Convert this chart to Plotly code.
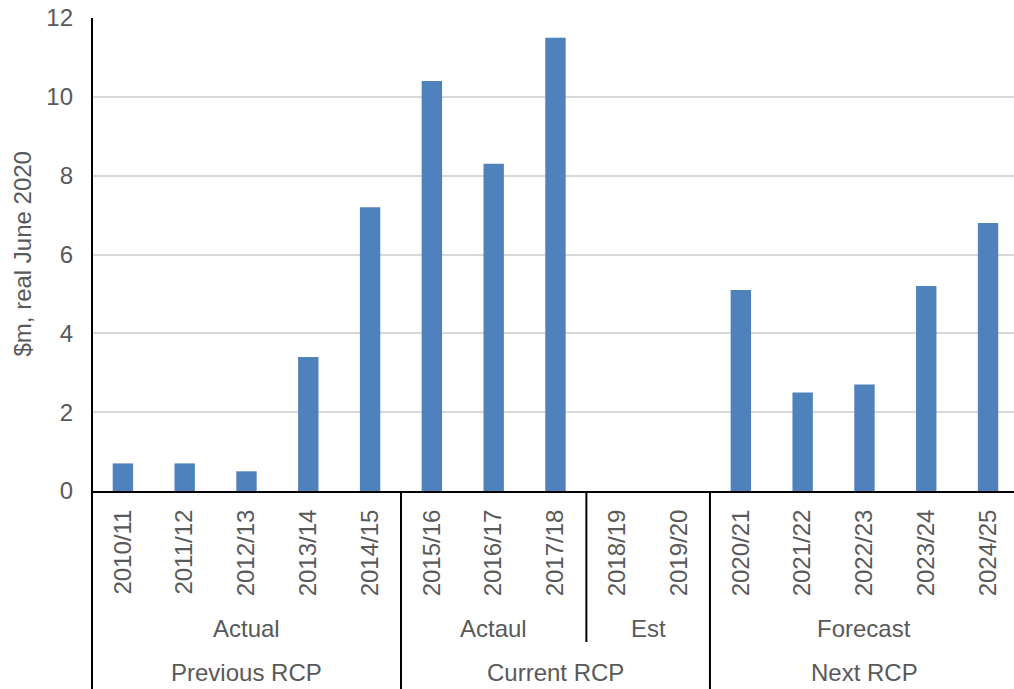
import plotly.graph_objects as go

# Financial years and spend ($m, real June 2020)
years = ["2010/11", "2011/12", "2012/13", "2013/14", "2014/15",
         "2015/16", "2016/17", "2017/18", "2018/19", "2019/20",
         "2020/21", "2021/22", "2022/23", "2023/24", "2024/25"]
spend = [0.7, 0.7, 0.5, 3.4, 7.2,
         10.4, 8.3, 11.5, None, None,
         5.1, 2.5, 2.7, 5.2, 6.8]

# Grouping levels beneath the year labels: (label, first index, last index)
status_groups = [("Actual", 0, 4), ("Actaul", 5, 7), ("Est", 8, 9), ("Forecast", 10, 14)]
period_groups = [("Previous RCP", 0, 4), ("Current RCP", 5, 9), ("Next RCP", 10, 14)]

W, H = 1014, 689
M_L, M_R, M_T, M_B = 92, 0, 18, 198
plot_h = H - M_T - M_B
TEXT = "#595959"
FONT = "Liberation Sans, Arial, sans-serif"
FS = 24

x = list(range(len(years)))

fig = go.Figure(go.Bar(x=x, y=spend, marker=dict(color="#4f81bd", line=dict(width=0)),
                       width=0.33))


def py(px_below_axis):
    """Convert a pixel offset below the x-axis line into paper y units."""
    return -px_below_axis / plot_h


shapes = []
# left axis line, running down through the category area
shapes.append(dict(type="line", xref="paper", yref="paper", x0=0, x1=0,
                   y0=1, y1=py(M_B), line=dict(color="black", width=2)))
# separators between RCP periods (full depth)
for _, a, b in period_groups[:-1]:
    shapes.append(dict(type="line", xref="x", yref="paper", x0=b + 0.5, x1=b + 0.5,
                       y0=0, y1=py(M_B), line=dict(color="black", width=2)))
# separator between Actaul and Est inside the current period
shapes.append(dict(type="line", xref="x", yref="paper", x0=7.5, x1=7.5,
                   y0=0, y1=py(151), line=dict(color="black", width=2)))

annotations = []
for label, a, b in status_groups:
    annotations.append(dict(text=label, x=(a + b) / 2, xref="x", y=py(137), yref="paper",
                            showarrow=False, yanchor="middle",
                            font=dict(family=FONT, size=FS, color=TEXT)))
for label, a, b in period_groups:
    annotations.append(dict(text=label, x=(a + b) / 2, xref="x", y=py(181), yref="paper",
                            showarrow=False, yanchor="middle",
                            font=dict(family=FONT, size=FS, color=TEXT)))
# y-axis title
annotations.append(dict(text="$m, real June 2020", x=-70 / (W - M_L - M_R), xref="paper",
                        y=0.5, yref="paper", textangle=-90, showarrow=False,
                        xanchor="center", yanchor="middle",
                        font=dict(family=FONT, size=FS, color=TEXT)))

fig.update_layout(
    width=W, height=H,
    margin=dict(l=M_L, r=M_R, t=M_T, b=M_B),
    paper_bgcolor="white", plot_bgcolor="white",
    showlegend=False,
    font=dict(family=FONT, size=FS, color=TEXT),
    shapes=shapes,
    annotations=annotations,
    xaxis=dict(
        range=[-0.5, 14.42],
        tickmode="array", tickvals=x, ticktext=years,
        tickangle=-90, ticks="", showgrid=False, zeroline=False,
        showline=True, linecolor="black", linewidth=2,
        tickfont=dict(family=FONT, size=FS, color=TEXT),
        ticklabelstandoff=7,
    ),
    yaxis=dict(
        range=[0, 12], dtick=2, tick0=0,
        showgrid=True, gridcolor="#d9d9d9", gridwidth=1.5,
        zeroline=False, showline=False, ticks="",
        tickfont=dict(family=FONT, size=FS, color=TEXT),
        ticklabelstandoff=18,
    ),
)

fig.write_html("out.html")
